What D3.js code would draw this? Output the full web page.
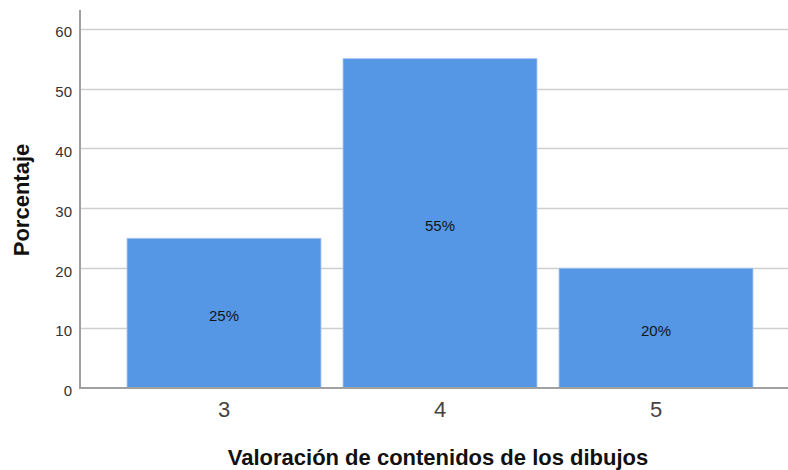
<!DOCTYPE html>
<html><head><meta charset="utf-8">
<script src="https://cdn.jsdelivr.net/npm/d3@7"></script>
<style>body{margin:0;background:#fff;}svg{display:block;font-family:"Liberation Sans",Arial,sans-serif;}</style>
</head><body>
<svg id="c" width="788" height="470"></svg>
<script>
const categories = ["3", "4", "5"];
const values = [25, 55, 20];
const valueLabels = ["25%", "55%", "20%"];
const yTicks = [0, 10, 20, 30, 40, 50, 60];
const xTitle = "Valoración de contenidos de los dibujos";
const yTitle = "Porcentaje";

const svg = d3.select("#c");
const pLeft = 80, pRight = 788, pTop = 10, pBottom = 388;
const y = d3.scaleLinear().domain([0, 60]).range([388, 28.7]);
const x = d3.scaleBand().domain(categories).range([116, 764]).paddingInner(0.102).paddingOuter(0.051);

// gridlines
svg.append("g").selectAll("line").data(yTicks.filter(d => d > 0)).join("line")
  .attr("x1", pLeft).attr("x2", pRight)
  .attr("y1", d => Math.round(y(d)) + 0.5).attr("y2", d => Math.round(y(d)) + 0.5)
  .attr("stroke", "#cfcfcf").attr("stroke-width", 1.5);

// bars
svg.append("g").selectAll("rect").data(values).join("rect")
  .attr("x", (d, i) => x(categories[i]))
  .attr("width", x.bandwidth())
  .attr("y", d => y(d))
  .attr("height", d => y(0) - y(d))
  .attr("fill", "#5596e5")
  .attr("stroke", "#a9c9f2").attr("stroke-width", 0.8);

// value labels
svg.append("g").selectAll("text").data(values).join("text")
  .attr("x", (d, i) => x(categories[i]) + x.bandwidth() / 2)
  .attr("y", d => (y(d) + y(0)) / 2 + 8)
  .attr("text-anchor", "middle")
  .attr("font-size", 15).attr("fill", "#151515")
  .text((d, i) => valueLabels[i]);

// y axis
const ya = svg.append("g").attr("transform", `translate(${pLeft},0)`)
  .call(d3.axisLeft(y).tickValues(yTicks).tickSize(0).tickPadding(8));
ya.select(".domain").remove();
ya.selectAll("text").attr("font-size", 15).attr("dy", "0.52em").attr("fill", "#333").attr("font-family", "Liberation Sans, Arial, sans-serif");
svg.append("line").attr("x1", pLeft).attr("x2", pLeft).attr("y1", pTop).attr("y2", pBottom + 1)
  .attr("stroke", "#a0a0a0").attr("stroke-width", 2);

// x axis
const xa = svg.append("g").attr("transform", `translate(0,${pBottom})`)
  .call(d3.axisBottom(x).tickSize(0).tickPadding(0));
xa.select(".domain").remove();
xa.selectAll("text").attr("font-size", 22).attr("dy", null).attr("y", 29).attr("fill", "#444").attr("font-family", "Liberation Sans, Arial, sans-serif");
svg.append("line").attr("x1", pLeft).attr("x2", pRight).attr("y1", pBottom).attr("y2", pBottom)
  .attr("stroke", "#a0a0a0").attr("stroke-width", 2);

// titles
svg.append("text").attr("x", 438).attr("y", 465).attr("text-anchor", "middle")
  .attr("font-size", 22).attr("font-weight", "bold").attr("fill", "#111").text(xTitle);
svg.append("text").attr("transform", "translate(29,200) rotate(-90)").attr("text-anchor", "middle")
  .attr("font-size", 22).attr("font-weight", "bold").attr("fill", "#111").text(yTitle);
</script>
</body></html>
